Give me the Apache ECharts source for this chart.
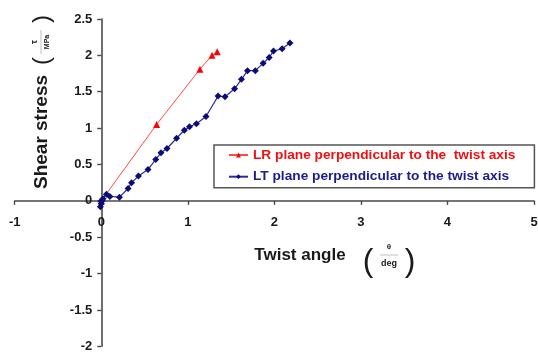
<!DOCTYPE html>
<html>
<head>
<meta charset="utf-8">
<script src="https://cdn.jsdelivr.net/npm/echarts@6/dist/echarts.min.js"></script>
<style>
  html, body { margin: 0; padding: 0; background: #fff; }
  #chart { width: 538px; height: 354px; }
</style>
</head>
<body>
<div id="chart"></div>
<script>
// Twist test: shear stress (MPa) against twist angle (deg)
const lrName = 'LR plane perpendicular to the  twist axis';
const ltName = 'LT plane perpendicular to the twist axis';

const lrAngle  = [0, 0.64, 1.14, 1.28, 1.34];
const lrStress = [0, 1.05, 1.81, 2.00, 2.05];

const ltAngle  = [0, -0.01, 0.00, 0.01, 0.02, 0.06, 0.10, 0.21, 0.31, 0.35, 0.43, 0.54, 0.63, 0.69, 0.76, 0.87, 0.96, 1.02, 1.10, 1.21, 1.35, 1.43, 1.54, 1.62, 1.69, 1.78, 1.87, 1.94, 1.99, 2.09, 2.18];
const ltStress = [0, -0.08, -0.04, 0.00, 0.03, 0.09, 0.06, 0.05, 0.17, 0.25, 0.34, 0.43, 0.57, 0.66, 0.72, 0.86, 0.97, 1.02, 1.06, 1.16, 1.44, 1.43, 1.54, 1.67, 1.79, 1.79, 1.89, 1.97, 2.06, 2.09, 2.17];

const xMin = -1, xMax = 5, xStep = 1;
const yMin = -2, yMax = 2.5, yStep = 0.5;

const pairs = (xs, ys) => xs.map((x, i) => [x, ys[i]]);

// plot area
const W = 538, H = 354;
const G = { left: 14.7, right: 4, top: 19, bottom: 7.7 };
const plotW = W - G.left - G.right;
const plotH = H - G.top - G.bottom;
// shift each axis inward so the two axes cross at the origin
const xAxisShift = -plotH * (0 - yMin) / (yMax - yMin);
const yAxisShift = -plotW * (0 - xMin) / (xMax - xMin);

const FONT = 'Liberation Sans, Arial, sans-serif';
const axisColor = '#4a4a4a';
const labelStyle = { color: '#1a1a1a', fontWeight: 'bold', fontSize: 13, fontFamily: FONT };

const chart = echarts.init(document.getElementById('chart'), null, { renderer: 'canvas' });

const rot = Math.PI / 2;
const txt = (x, y, text, font, extra) => Object.assign({
  type: 'text', x: x, y: y, silent: true,
  style: { text: text, font: font, fill: '#1a1a1a', textAlign: 'center', textVerticalAlign: 'middle' }
}, extra || {});

chart.setOption({
  animation: false,
  backgroundColor: '#fff',
  grid: Object.assign({ containLabel: false, outerBoundsMode: 'none' }, G),
  xAxis: {
    type: 'value', min: xMin, max: xMax, interval: xStep,
    position: 'bottom', offset: xAxisShift,
    axisLine: { onZero: false, lineStyle: { color: axisColor, width: 1.6 } },
    axisTick: { show: true, inside: false, length: 4, lineStyle: { color: axisColor, width: 1.4 } },
    axisLabel: Object.assign({ margin: 15 }, labelStyle),
    splitLine: { show: false }
  },
  yAxis: {
    type: 'value', min: yMin, max: yMax, interval: yStep,
    position: 'left', offset: yAxisShift,
    axisLine: { show: true, onZero: false, lineStyle: { color: axisColor, width: 1.6 } },
    axisTick: { show: true, inside: false, length: 4, lineStyle: { color: axisColor, width: 1.4 } },
    axisLabel: Object.assign({ margin: 9 }, labelStyle),
    splitLine: { show: false }
  },
  legend: {
    orient: 'vertical',
    left: 214, top: 145,
    padding: [2, 19, 3, 14],
    itemGap: 5.7,
    itemWidth: 19, itemHeight: 6,
    borderColor: '#555', borderWidth: 1.5,
    backgroundColor: '#fff',
    textStyle: { fontWeight: 'bold', fontSize: 13.7, fontFamily: FONT, lineHeight: 16 },
    data: [
      { name: lrName, textStyle: { color: '#f01010' } },
      { name: ltName, textStyle: { color: '#1c1c8c' } }
    ]
  },
  series: [
    {
      name: lrName, type: 'line', data: pairs(lrAngle, lrStress),
      symbol: 'triangle', symbolSize: 7, showAllSymbol: true,
      lineStyle: { color: '#ff4a4a', width: 1 },
      itemStyle: { color: '#ff0000' }
    },
    {
      name: ltName, type: 'line', data: pairs(ltAngle, ltStress),
      symbol: 'diamond', symbolSize: 7, showAllSymbol: true,
      lineStyle: { color: '#2c2ca0', width: 1.2 },
      itemStyle: { color: '#0c0c78' }
    }
  ],
  graphic: [
    // vertical axis title with unit fraction
    txt(42, 132, 'Shear stress', 'bold 19px ' + FONT, { rotation: rot }),
    txt(42, 61, '(', '24px ' + FONT, { rotation: rot }),
    txt(35, 42, 'τ', 'bold 9px ' + FONT, { rotation: rot }),
    { type: 'line', silent: true, shape: { x1: 41, y1: 30, x2: 41, y2: 54 }, style: { stroke: '#999', lineWidth: 0.6 } },
    txt(47, 42, 'MPa', 'bold 7px ' + FONT, { rotation: rot }),
    txt(42, 19, ')', '24px ' + FONT, { rotation: rot }),
    // horizontal axis title with unit fraction
    txt(300, 255, 'Twist angle', 'bold 17px ' + FONT),
    txt(368, 262, '(', '32px ' + FONT),
    txt(389, 247, 'θ', 'bold 8px ' + FONT),
    { type: 'line', silent: true, shape: { x1: 380, y1: 255, x2: 398, y2: 255 }, style: { stroke: '#999', lineWidth: 0.6 } },
    txt(389, 264, 'deg', 'bold 9px ' + FONT),
    txt(410, 262, ')', '32px ' + FONT)
  ]
});
</script>
</body>
</html>
